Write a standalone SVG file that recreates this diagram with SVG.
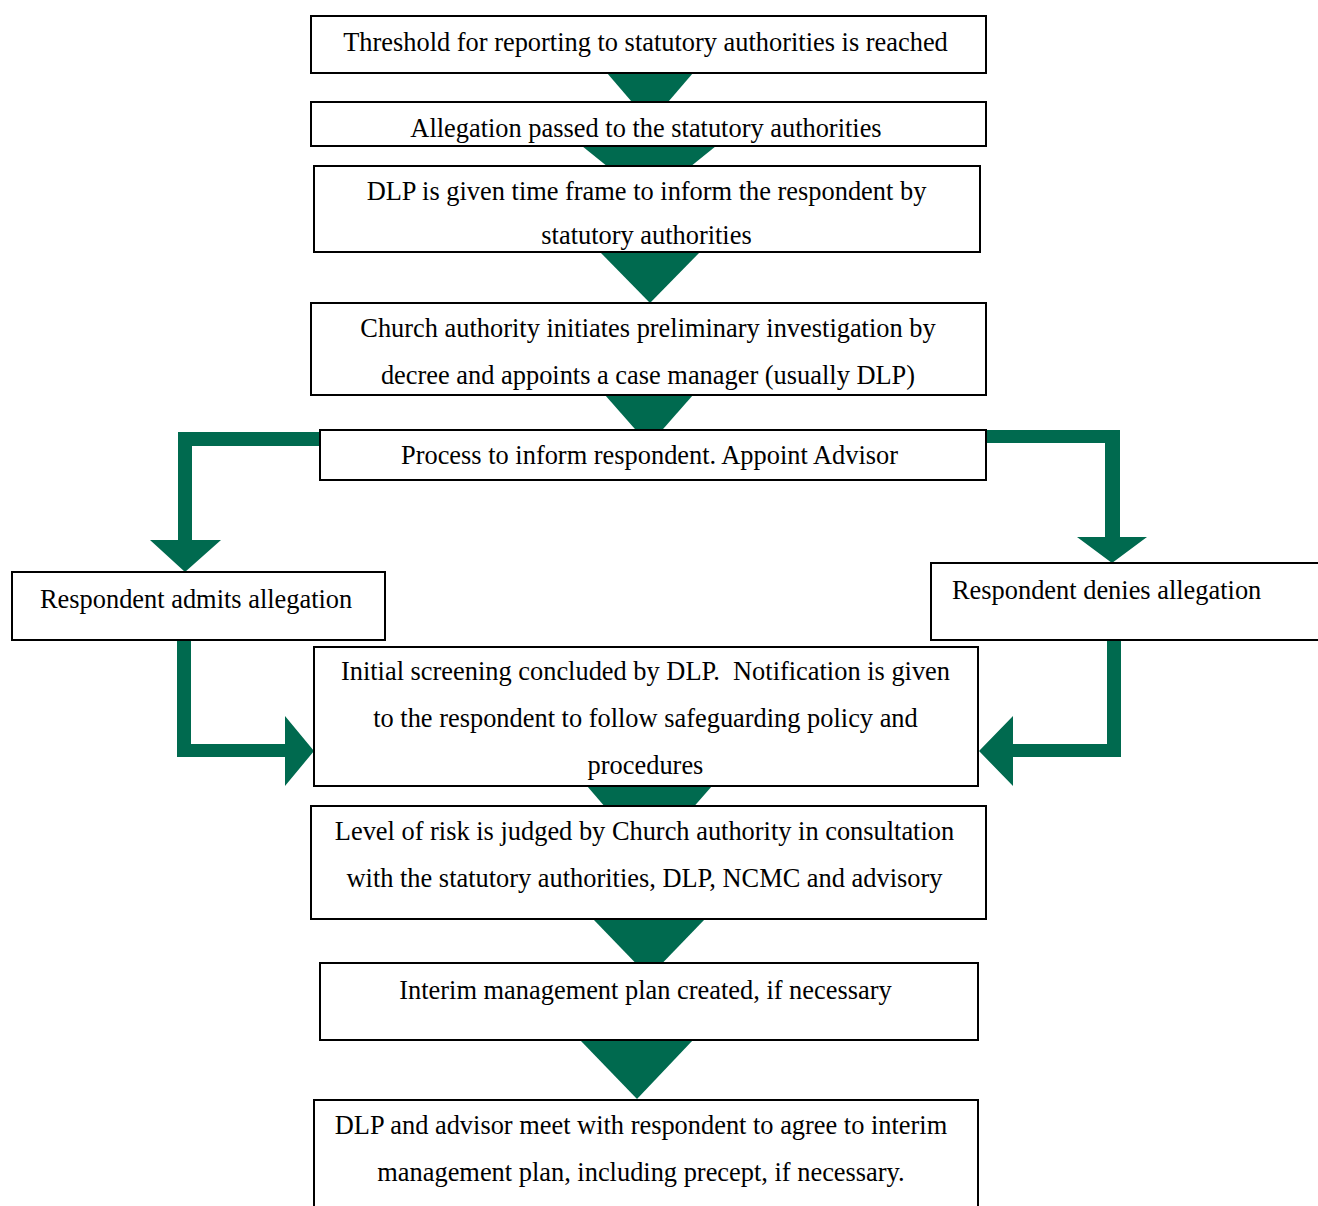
<svg xmlns="http://www.w3.org/2000/svg" width="1318" height="1206" viewBox="0 0 1318 1206">
<style>
  .box { fill: #ffffff; stroke: #000000; stroke-width: 2; }
  .arr { fill: #006a4f; stroke: none; }
  text { font-family: "Liberation Serif", "Times New Roman", serif; font-size: 26.4px; fill: #000000; }
  .c { text-anchor: middle; }
</style>
<rect width="1318" height="1206" fill="#ffffff"/>
<g id="connectors">
  <polygon class="arr" points="607,73 693,73 650,123"/>
  <polygon class="arr" points="582,146 716,146 649,200"/>
  <polygon class="arr" points="600,252 700,252 650,303"/>
  <polygon class="arr" points="605,395 693,395 649,445"/>
  <polygon class="arr" points="320,432 178,432 178,540 150,540 185,572 221,540 192,540 192,446 320,446"/>
  <polygon class="arr" points="986,430 1120,430 1120,537 1147,537 1112,563 1077,537 1105,537 1105,443 986,443"/>
  <polygon class="arr" points="177,640 191,640 191,744 285,744 285,716 314,751 285,786 285,757 177,757"/>
  <polygon class="arr" points="1121,640 1107,640 1107,744 1013,744 1013,716 979,751 1013,786 1013,757 1121,757"/>
  <polygon class="arr" points="587,786 712,786 649,858"/>
  <polygon class="arr" points="593,919 705,919 649,977"/>
  <polygon class="arr" points="580,1040 693,1040 637,1099"/>
</g>
<g id="n1"><rect class="box" x="311" y="16" width="675" height="57"/><text class="c" x="645.5" y="51">Threshold for reporting to statutory authorities is reached</text></g>
<g id="n2"><rect class="box" x="311" y="102" width="675" height="44"/><text class="c" x="646" y="137">Allegation passed to the statutory authorities</text></g>
<g id="n3"><rect class="box" x="314" y="166" width="666" height="86"/><text class="c" x="646.5" y="200">DLP is given time frame to inform the respondent by</text><text class="c" x="646.5" y="244">statutory authorities</text></g>
<g id="n4"><rect class="box" x="311" y="303" width="675" height="92"/><text class="c" x="648" y="337">Church authority initiates preliminary investigation by</text><text class="c" x="648" y="384">decree and appoints a case manager (usually DLP)</text></g>
<g id="n5"><rect class="box" x="320" y="430" width="666" height="50"/><text class="c" x="649.5" y="464">Process to inform respondent. Appoint Advisor</text></g>
<g id="n6"><rect class="box" x="12" y="572" width="373" height="68"/><text x="40" y="608">Respondent admits allegation</text></g>
<g id="n7"><rect class="box" x="931" y="563" width="400" height="77"/><text x="952" y="599">Respondent denies allegation</text></g>
<g id="n8"><rect class="box" x="314" y="647" width="664" height="139"/><text class="c" x="645.5" y="680" xml:space="preserve">Initial screening concluded by DLP.  Notification is given</text><text class="c" x="645.5" y="727">to the respondent to follow safeguarding policy and</text><text class="c" x="645.5" y="774">procedures</text></g>
<g id="n9"><rect class="box" x="311" y="806" width="675" height="113"/><text class="c" x="644.5" y="840">Level of risk is judged by Church authority in consultation</text><text class="c" x="644.5" y="887">with the statutory authorities, DLP, NCMC and advisory</text></g>
<g id="n10"><rect class="box" x="320" y="963" width="658" height="77"/><text class="c" x="645.5" y="999">Interim management plan created, if necessary</text></g>
<g id="n11"><rect class="box" x="314" y="1100" width="664" height="130"/><text class="c" x="641" y="1134">DLP and advisor meet with respondent to agree to interim</text><text class="c" x="641" y="1181">management plan, including precept, if necessary.</text></g>
</svg>
